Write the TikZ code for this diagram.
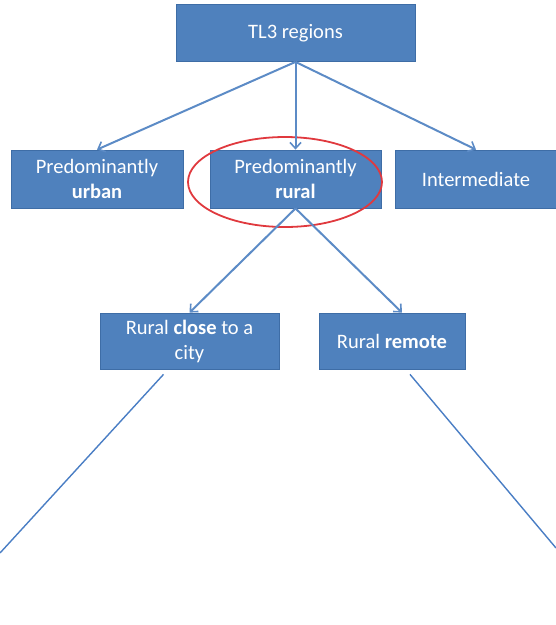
\documentclass[tikz,border=0pt]{standalone}
\usepackage{fontspec}
\setmainfont{Carlito}
\usetikzlibrary{arrows.meta,calc}
\definecolor{boxblue}{HTML}{4F81BD}
\definecolor{boxedge}{HTML}{3E6DA6}
\definecolor{arrblue}{HTML}{5C8BC6}
\definecolor{lineblue}{HTML}{4A7EC4}
\definecolor{ringred}{HTML}{E0393E}
\tikzset{
  catbox/.style={rectangle, draw=boxedge, line width=0.8pt, fill=boxblue, text=white,
    inner sep=0pt, align=center, font=\fontsize{20.5}{25}\selectfont},
  arr/.style={draw=arrblue, line width=2pt, -{Straight Barb[length=6pt,width=11pt,line width=1.6pt]}},
  thinline/.style={draw=lineblue, line width=1.4pt},
  ring/.style={draw=ringred, line width=1.8pt}
}
\begin{document}
\begin{tikzpicture}[x=1pt,y=-1pt]
\useasboundingbox (0,0) rectangle (556,625);
\node[catbox, minimum width=239pt, minimum height=57pt] (tl3) at (295.5,33) {TL3 regions};
\node[catbox, minimum width=172pt, minimum height=58pt] (urban) at (97,179) {Predominantly\\\textbf{urban}};
\node[catbox, minimum width=171pt, minimum height=58pt] (rural) at (295.5,179) {Predominantly\\\textbf{rural}};
\node[catbox, minimum width=162pt, minimum height=58pt] (inter) at (476,179) {Intermediate};
\node[catbox, minimum width=179pt, minimum height=56pt] (close) at (189.5,341) {Rural \textbf{close} to a\\city};
\node[catbox, minimum width=146pt, minimum height=56pt] (remote) at (392,341) {Rural \textbf{remote}};
\draw[ring] (285,182) ellipse [x radius=97, y radius=45];
\draw[arr] (tl3.south) -- (urban.north);
\draw[arr] (tl3.south) -- (rural.north);
\draw[arr] (tl3.south) -- (inter.north);
\coordinate (rtip) at ($(remote.north)+(10,0)$);
\draw[arr] (rural.south) -- (close.north);
\draw[arr] (rural.south) -- (rtip);
\coordinate (lend) at (0,553);
\coordinate (rend) at (556,548);
\draw[thinline] ($(close.south)+(-26,5)$) -- (lend);
\draw[thinline] ($(remote.south)+(18,5)$) -- (rend);
\end{tikzpicture}
\end{document}
